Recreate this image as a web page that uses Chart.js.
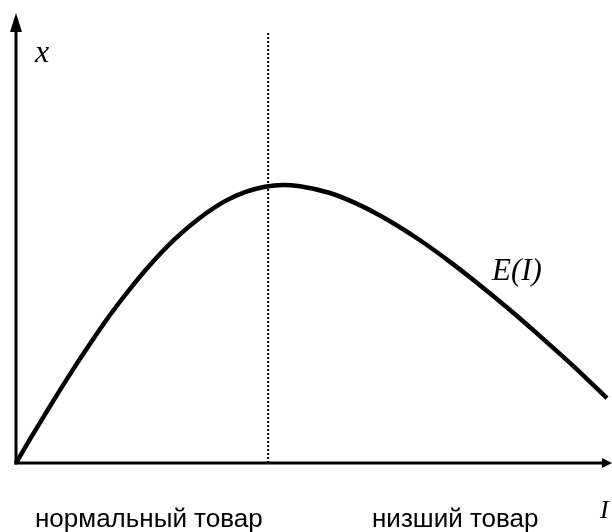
<!DOCTYPE html>
<html>
<head>
<meta charset="utf-8">
<script src="https://cdn.jsdelivr.net/npm/chart.js@4/dist/chart.umd.min.js"></script>
<style>
  html, body { margin: 0; padding: 0; background: #fff; }
  #wrap { width: 612px; height: 532px; }
</style>
</head>
<body>
<div id="wrap"><canvas id="engel"></canvas></div>
<script>
// income I (axis 0..100) and demand x (axis 0..100)
let incomeI = [0, 2.35, 4.87, 8.56, 12.42, 15.77, 19.13, 22.48, 26.68, 30.87, 35.07, 38.42, 41.78, 44.8,
               47.65, 52.68, 56.88, 61.07, 67.79, 72.82, 77.01, 82.89, 87.92, 93.79, 99.16];
let demandX = [0, 5.3, 10.8, 18.7, 26.5, 32.9, 38.7, 44.0, 49.8, 54.5, 58.2, 60.2, 61.4, 61.8,
               61.5, 60.0, 57.8, 55.0, 49.5, 44.7, 40.4, 34.0, 28.2, 21.2, 14.4];

// border between normal and inferior good
let dividerI = 42.3;
let dividerTop = 95.8;

let axisMax = [100, 100];
let curveLabel = "E(I)";
let axisLabels = ["x", "I"];
let zoneLabels = ["нормальный товар", "низший товар"];

// axes with arrows and the text labels
const engelDecor = {
    id: 'engelDecor',
    afterDatasetsDraw(chart) {
        let ctx = chart.ctx;
        let sx = chart.scales.x;
        let sy = chart.scales.y;
        let x0 = sx.getPixelForValue(0);
        let y0 = sy.getPixelForValue(0);
        let xEnd = sx.getPixelForValue(axisMax[0]);
        let yEnd = sy.getPixelForValue(axisMax[1]);

        ctx.save();
        ctx.strokeStyle = '#000';
        ctx.fillStyle = '#000';
        ctx.lineWidth = 3;
        ctx.lineCap = 'butt';

        // vertical axis
        ctx.beginPath();
        ctx.moveTo(x0, y0 + 1.5);
        ctx.lineTo(x0, yEnd + 14);
        ctx.stroke();
        ctx.beginPath();
        ctx.moveTo(x0, yEnd);
        ctx.lineTo(x0 - 6, yEnd + 19);
        ctx.lineTo(x0 + 6, yEnd + 19);
        ctx.closePath();
        ctx.fill();

        // horizontal axis
        ctx.beginPath();
        ctx.moveTo(x0 - 1.5, y0);
        ctx.lineTo(xEnd - 6, y0);
        ctx.stroke();
        ctx.beginPath();
        ctx.moveTo(xEnd, y0);
        ctx.lineTo(xEnd - 10, y0 - 5);
        ctx.lineTo(xEnd - 10, y0 + 5);
        ctx.closePath();
        ctx.fill();

        // italic math labels
        ctx.textBaseline = 'alphabetic';
        ctx.textAlign = 'left';
        ctx.font = 'italic 32px "Liberation Serif", "DejaVu Serif", serif';
        ctx.fillText(axisLabels[0], x0 + 19, yEnd + 49);
        ctx.font = 'italic 31px "Liberation Serif", "DejaVu Serif", serif';
        ctx.fillText(curveLabel, 492, 280);
        ctx.font = 'italic 26px "Liberation Serif", "DejaVu Serif", serif';
        ctx.fillText(axisLabels[1], 600, 518);

        // zone captions
        ctx.font = '26px "Liberation Sans", Arial, sans-serif';
        ctx.fillText(zoneLabels[0], 35, 527);
        ctx.fillText(zoneLabels[1], 372, 527);
        ctx.restore();
    }
};

let curvePoints = incomeI.map(function(v, i) {
    return { x: v, y: demandX[i] };
});

let dividerPoints = [
    { x: dividerI, y: 0 },
    { x: dividerI, y: dividerTop }
];

new Chart(document.getElementById('engel').getContext('2d'), {
    type: 'scatter',
    data: {
        datasets: [{
            data: dividerPoints,
            showLine: true,
            borderColor: '#000',
            borderWidth: 2,
            borderDash: [2, 2],
            pointRadius: 0,
            clip: false
        }, {
            data: curvePoints,
            showLine: true,
            borderColor: '#000',
            borderWidth: 4.5,
            cubicInterpolationMode: 'monotone',
            pointRadius: 0,
            clip: false
        }]
    },
    options: {
        responsive: true,
        maintainAspectRatio: false,
        animation: false,
        layout: { padding: { left: 16, right: 0, top: 13, bottom: 69 } },
        plugins: {
            legend: { display: false },
            tooltip: { enabled: false }
        },
        scales: {
            x: { type: 'linear', min: 0, max: axisMax[0], display: false },
            y: { type: 'linear', min: 0, max: axisMax[1], display: false }
        }
    },
    plugins: [engelDecor]
});
</script>
</body>
</html>
